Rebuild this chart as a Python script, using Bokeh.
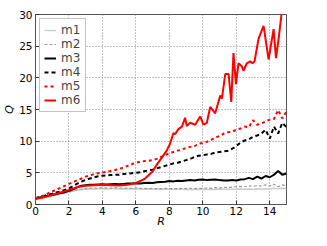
from bokeh.plotting import figure
from bokeh.models import Range1d, FixedTicker
from bokeh.embed import file_html
from bokeh.resources import INLINE

R = [i * 0.25 for i in range(61)]

m1 = [0.9, 1.0, 1.1, 1.25, 1.4, 1.5, 1.65, 1.8, 1.95, 2.1, 2.25, 2.35, 2.4, 2.45, 2.45, 2.5,
      2.5, 2.45, 2.5, 2.5, 2.45, 2.5, 2.45, 2.5, 2.45, 2.45, 2.4, 2.45, 2.4, 2.4, 2.45, 2.4,
      2.4, 2.35, 2.4, 2.4, 2.35, 2.4, 2.35, 2.35, 2.4, 2.35, 2.4, 2.35, 2.4, 2.4, 2.35, 2.4,
      2.4, 2.45, 2.4, 2.45, 2.4, 2.5, 2.45, 2.5, 2.45, 2.55, 2.5, 2.55, 2.5]
m2 = [0.9, 1.0, 1.15, 1.3, 1.45, 1.6, 1.75, 1.9, 2.05, 2.2, 2.35, 2.45, 2.5, 2.55, 2.6, 2.6,
      2.65, 2.6, 2.6, 2.65, 2.6, 2.6, 2.6, 2.55, 2.6, 2.55, 2.55, 2.5, 2.55, 2.5, 2.5, 2.55,
      2.5, 2.5, 2.5, 2.55, 2.5, 2.55, 2.5, 2.55, 2.55, 2.6, 2.55, 2.65, 2.6, 2.7, 2.65, 2.75,
      2.8, 2.85, 2.8, 2.95, 2.85, 3.0, 2.9, 3.1, 2.9, 3.2, 2.8, 3.1, 2.9]
m3 = [1.0, 1.1, 1.25, 1.4, 1.5, 1.65, 1.8, 1.95, 2.15, 2.4, 2.75, 2.95, 3.05, 3.1, 3.1, 3.15,
      3.2, 3.15, 3.2, 3.25, 3.2, 3.25, 3.3, 3.3, 3.35, 3.3, 3.4, 3.45, 3.4, 3.5, 3.55, 3.6,
      3.7, 3.65, 3.75, 3.7, 3.8, 3.85, 3.8, 3.9, 3.95, 3.85, 3.9, 3.95, 3.85, 3.8, 3.8, 3.85,
      3.8, 3.95, 4.0, 4.2, 4.0, 4.4, 4.1, 4.5, 4.3, 4.7, 5.3, 4.7, 4.9]
m4 = [1.0, 1.15, 1.35, 1.55, 1.7, 1.9, 2.05, 2.3, 2.55, 2.9, 3.3, 3.6, 3.9, 4.1, 4.3, 4.45,
      4.55, 4.6, 4.65, 4.7, 4.7, 4.8, 4.85, 4.95, 5.0, 5.1, 5.25, 5.4, 5.5, 5.7, 5.9, 6.1,
      6.3, 6.5, 6.6, 6.8, 7.0, 7.2, 7.5, 7.7, 7.8, 7.9, 8.0, 8.2, 8.3, 8.4, 8.5, 8.8,
      9.2, 9.8, 10.1, 10.3, 10.7, 10.9, 11.2, 11.8, 10.4, 12.3, 11.2, 12.9, 12.2]
m5 = [1.0, 1.2, 1.45, 1.75, 2.05, 2.35, 2.65, 2.95, 3.25, 3.55, 3.85, 4.1, 4.4, 4.6, 4.8, 4.95,
      5.05, 5.15, 5.3, 5.45, 5.6, 5.85, 6.1, 6.35, 6.6, 6.75, 6.85, 6.9, 7.0, 7.2, 7.5, 7.8,
      8.1, 8.3, 8.5, 8.7, 8.9, 9.1, 9.2, 9.6, 9.7, 9.9, 10.2, 10.6, 10.8, 11.2, 11.4, 11.5,
      11.8, 12.0, 12.3, 12.2, 13.3, 12.6, 12.8, 13.1, 13.4, 13.5, 14.9, 13.6, 14.7]

R6 = [0, 0.5, 1, 1.5, 2, 2.5, 3, 3.5, 4, 4.5, 5, 5.5, 6, 6.5, 7, 7.25, 7.5, 7.84, 8.04, 8.24,
      8.34, 8.54, 8.75, 8.94, 9.04, 9.24, 9.54, 9.84, 10.04, 10.24, 10.44, 10.74, 11.04, 11.14,
      11.34, 11.54, 11.7, 11.83, 11.98, 12.13, 12.34, 12.43, 12.63, 12.83, 12.97, 13.09, 13.33,
      13.63, 13.93, 14.23, 14.37, 14.53, 14.69, 14.9]
m6 = [0.85, 1.15, 1.5, 1.9, 2.3, 2.75, 2.95, 3.05, 3.1, 3.05, 3.0, 3.1, 3.4, 4.0, 5.2, 6.3, 7.2,
      8.5, 9.6, 11.3, 11.1, 11.9, 12.3, 13.7, 12.4, 12.9, 12.6, 13.9, 12.6, 12.9, 15.4, 14.4,
      17.2, 16.7, 20.6, 20.6, 16.2, 23.9, 19.0, 22.3, 21.8, 21.1, 22.3, 22.6, 22.3, 22.6, 26.2,
      28.2, 22.9, 27.7, 23.1, 26.2, 29.8, 34.0]

xticks = [0, 2, 4, 6, 8, 10, 12, 14]
yticks = [0, 5, 10, 15, 20, 25, 30]

p = figure(width=311, height=230, x_range=Range1d(0, 15), y_range=Range1d(0, 30),
           output_backend="svg", toolbar_location=None,
           min_border_left=33, min_border_top=14, min_border_right=25, min_border_bottom=10)
p.background_fill_color = "white"
p.border_fill_color = "white"
p.outline_line_color = "#555555"
p.outline_line_width = 1

p.line(R, m1, color="#cccccc", line_width=1.5, legend_label="m1")
p.line(R, m2, color="#999999", line_width=1.2, line_dash="3 2", legend_label="m2")
p.line(R, m3, color="black", line_width=2, legend_label="m3")
p.line(R, m4, color="black", line_width=2, line_dash="4 3", legend_label="m4")
p.line(R, m5, color="red", line_width=2, line_dash="3 3", legend_label="m5")
p.line(R6, m6, color="red", line_width=2, legend_label="m6")

p.xaxis.ticker = FixedTicker(ticks=xticks)
p.yaxis.ticker = FixedTicker(ticks=yticks)
for ax in (p.xaxis[0], p.yaxis[0]):
    ax.major_tick_in = 4
    ax.major_tick_out = 0
    ax.minor_tick_line_color = None
    ax.axis_line_color = "#555555"
    ax.major_tick_line_color = "#333333"
    ax.major_label_text_font = "DejaVu Sans"
    ax.major_label_text_font_size = "10.5px"
    ax.major_label_text_color = "black"
    ax.axis_label_text_font = "DejaVu Sans"
    ax.axis_label_text_font_size = "11px"
    ax.axis_label_text_font_style = "italic"
    ax.axis_label_text_color = "black"
p.xaxis.major_label_standoff = 2
p.xaxis.axis_label_standoff = -3
p.yaxis.major_label_standoff = 3
p.yaxis.axis_label_standoff = 0

p.xaxis.axis_label = "R"
p.yaxis.axis_label = "Q"

p.grid.grid_line_color = "#888888"
p.grid.grid_line_dash = "1 2"
p.grid.grid_line_width = 1

lg = p.legend[0]
lg.location = "top_left"
lg.margin = 4
lg.padding = 4
lg.spacing = 0
lg.label_height = 12
lg.glyph_height = 12
lg.glyph_width = 12
lg.label_standoff = 5
lg.label_text_font = "DejaVu Sans"
lg.label_text_font_size = "12px"
lg.label_text_baseline = "middle"
lg.border_line_color = "#888888"
lg.border_line_width = 1
lg.background_fill_color = "white"
lg.background_fill_alpha = 1

open("out.html", "w").write(file_html(p, INLINE))
